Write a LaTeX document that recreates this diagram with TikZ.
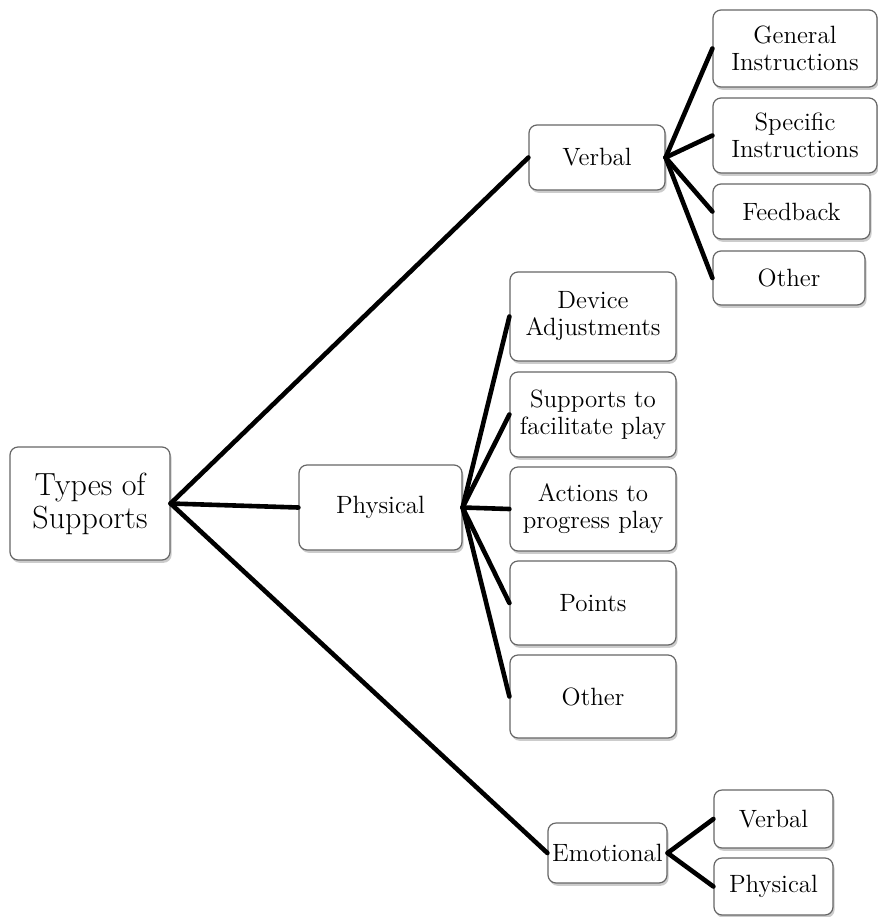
\documentclass[tikz,border=0pt]{standalone}
\usepackage{tikz}
\usetikzlibrary{shadows}

\begin{document}
\begin{tikzpicture}[x=0.5pt, y=-0.5pt,
    box/.style={draw=gray!80!black, line width=0.6pt, fill=white, rounded corners=4pt,
        align=center, inner sep=0pt, font=\fontsize{12.5}{13.5}\selectfont,
        drop shadow={shadow xshift=0.8pt, shadow yshift=-1.4pt, opacity=0.4}},
    link/.style={line width=2.3pt, line cap=round}]
        % Fix the page size
        \useasboundingbox (0,0) rectangle (878,917);

        % Root
        \node[box, minimum width=80pt, minimum height=56.5pt, font=\fontsize{16}{16.5}\selectfont]
            (types) at (90,503.5) {Types of\\Supports};

        % Main branches
        \node[box, minimum width=68pt, minimum height=32.5pt] (verbal) at (597,157.5) {Verbal};
        \node[box, minimum width=81.5pt, minimum height=42.5pt] (physical) at (380.5,507.5) {Physical};
        \node[box, minimum width=59.5pt, minimum height=30pt] (emotional) at (607.5,853) {Emotional};

        % Verbal leaves
        \node[box, minimum width=82pt, minimum height=38.5pt] (general) at (795,48.5) {General\\Instructions};
        \node[box, minimum width=82pt, minimum height=37.5pt] (specific) at (795,135.5) {Specific\\Instructions};
        \node[box, minimum width=78.5pt, minimum height=27.5pt] (feedback) at (791.5,211.5) {Feedback};
        \node[box, minimum width=76pt, minimum height=27pt] (vother) at (789,278) {Other};

        % Physical leaves
        \node[box, minimum width=83pt, minimum height=44.5pt] (device) at (593,316.5) {Device\\Adjustments};
        \node[box, minimum width=83pt, minimum height=42.5pt] (facil) at (593,414.5) {Supports to\\facilitate play};
        \node[box, minimum width=83pt, minimum height=42pt] (progress) at (593,509) {Actions to\\progress play};
        \node[box, minimum width=83pt, minimum height=42pt] (points) at (593,603) {Points};
        \node[box, minimum width=83pt, minimum height=41.5pt] (pother) at (593,696.5) {Other};

        % Emotional leaves
        \node[box, minimum width=59.5pt, minimum height=29pt] (everbal) at (773.5,819) {Verbal};
        \node[box, minimum width=59.5pt, minimum height=28.5pt] (ephys) at (773.5,886.5) {Physical};

        % Connectors
        \foreach \t in {verbal, physical, emotional}
            \draw[link] (types.east) -- (\t.west);
        \foreach \t in {general, specific, feedback, vother}
            \draw[link] (verbal.east) -- (\t.west);
        \foreach \t in {device, facil, progress, points, pother}
            \draw[link] (physical.east) -- (\t.west);
        \foreach \t in {everbal, ephys}
            \draw[link] (emotional.east) -- (\t.west);
    \end{tikzpicture}
\end{document}
